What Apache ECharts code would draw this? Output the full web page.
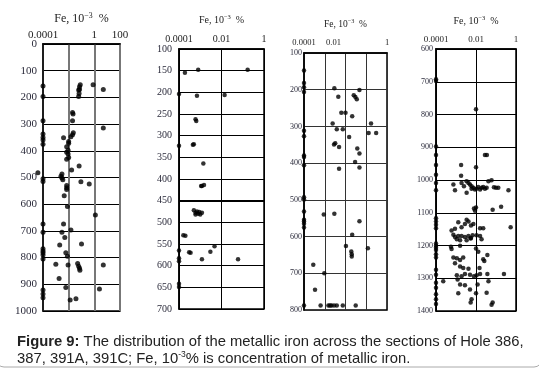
<!DOCTYPE html>
<html>
<head>
<meta charset="utf-8">
<script src="https://cdn.jsdelivr.net/npm/echarts@6/dist/echarts.min.js"></script>
<style>
  html, body { margin: 0; padding: 0; background: #fff; }
  #chart { width: 539px; height: 370px; }
</style>
</head>
<body>
<div id="chart"></div>
<script>
// Hole 386 : Fe (10^-3 %) vs depth
const hole386Fe = [0.0001, 0.0001, 0.08, 0.07, 0.07, 0.06, 0.065, 0.06, 0.8, 5,
  0.02, 0.022, 0.02, 0.0001, 5, 0.023, 0.02, 0.0001, 0.0001, 0.0001,
  0.0001, 0.004, 0.015, 0.01, 0.01, 0.007, 0.009, 0.007, 0.01, 0.009,
  0.007, 0.065, 0.017, 0.00004, 0.003, 0.0025, 0.003, 0.0035, 0.0001, 0.0001,
  0.09, 0.4, 0.007, 0.007, 0.007, 0.0045, 0.008, 1.2, 0.0001, 0.004,
  0.015, 0.003, 0.0001, 0.005, 0.002, 0.1, 0.0001, 0.0001, 0.0001, 0.0001,
  0.0001, 0.006, 0.008, 0.001, 0.009, 0.05, 0.06, 0.07, 0.075, 5,
  0.0018, 0.006, 0.0001, 2.5, 0.0001, 0.013, 0.037, 0.0001];
const hole386Depth = [157, 197, 153, 160, 170, 172, 185, 197, 153, 170,
  257, 262, 287, 287, 315, 332, 340, 337, 350, 360,
  375, 351, 347, 365, 372, 385, 398, 405, 425, 412,
  432, 457, 472, 482, 487, 495, 502, 508, 505, 515,
  516, 524, 530, 538, 545, 568, 609, 640, 674, 674,
  697, 705, 705, 725, 753, 749, 767, 775, 782, 790,
  805, 782, 795, 825, 828, 822, 832, 840, 847, 828,
  878, 912, 921, 918, 950, 959, 954, 936];

// Hole 387
const hole387Fe = [0.00019, 0.0008, 0.17, 0.0001, 0.0007, 0.014, 0.0006, 0.00065, 0.0001, 0.00045,
  0.0005, 0.0014, 0.0011, 0.0012, 0.0015, 0.0005, 0.0006, 0.0007, 0.0008, 0.0009,
  0.0012, 0.001, 0.0006, 0.00016, 0.0002, 0.0001, 0.0003, 0.00035, 0.0001, 0.0001,
  0.0012, 0.003, 0.0047, 0.06, 0.0001, 0.0001];
const hole387Depth = [155, 148, 148, 204, 208, 206, 262, 266, 323, 321,
  320, 364, 416, 416, 414, 472, 478, 475, 480, 476,
  478, 482, 482, 530, 531, 565, 569, 570, 583, 590,
  585, 568, 555, 585, 642, 649];

// Hole 391A
const hole391AFe = [0.0001, 0.0001, 0.0001, 0.0001, 0.0029, 0.0045, 0.047, 0.025, 0.03, 0.035,
  0.0063, 0.01, 0.021, 0.0024, 0.0038, 0.0074, 0.17, 0.13, 0.3, 0.0001,
  0.0001, 0.015, 0.0028, 0.0032, 0.0049, 0.037, 0.047, 0.0001, 0.0001, 0.0001,
  0.029, 0.0049, 0.047, 0.0001, 0.0001, 0.0001, 0.0001, 0.0001, 0.0001, 0.0001,
  0.0009, 0.0029, 0.047, 0.021, 0.0105, 0.019, 0.02, 0.02, 0.12, 0.00028,
  0.00095, 0.00034, 0.0001, 0.00063, 0.0015, 0.0018, 0.0021, 0.0028, 0.0038, 0.0074,
  0.031];
const hole391ADepth = [148, 182, 193, 206, 196, 219, 201, 215, 220, 226,
  263, 263, 272, 292, 308, 308, 292, 318, 318, 312,
  327, 329, 349, 346, 356, 360, 374, 379, 383, 406,
  397, 415, 412, 493, 499, 532, 554, 559, 565, 575,
  540, 538, 558, 595, 626, 641, 648, 654, 632, 677,
  700, 745, 788, 788, 788, 788, 788, 788, 788, 788,
  788];

// Hole 391C
const hole391CFe = [0.0001, 0.0001, 0.01, 0.0001, 0.0001, 0.028, 0.035, 0.0001, 0.0018, 0.01,
  0.0001, 0.0018, 0.0001, 0.0001, 0.00074, 0.00089, 0.0019, 0.0025, 0.0034, 0.0042,
  0.005, 0.006, 0.0074, 0.0089, 0.0107, 0.013, 0.016, 0.019, 0.023, 0.028,
  0.034, 0.042, 0.06, 0.079, 0.1, 0.13, 0.42, 0.0034, 0.006, 0.0079,
  0.0089, 0.01, 0.068, 0.18, 0.0001, 0.0001, 0.0001, 0.0001, 0.0034, 0.0042,
  0.0028, 0.0013, 0.0019, 0.00089, 0.0006, 0.0056, 0.0074, 0.016, 0.023, 0.00074,
  0.00089, 0.0013, 0.0019, 0.0028, 0.0042, 0.0056, 0.0068, 0.0107, 0.016, 0.0011,
  0.0016, 0.0034, 0.0054, 0.019, 0.54, 0.0001, 0.0001, 0.0001, 0.0001, 0.0001,
  0.0001, 0.00056, 0.0006, 0.0016, 0.01, 0.013, 0.037, 0.00074, 0.0011, 0.0016,
  0.0023, 0.023, 0.026, 0.00089, 0.0016, 0.0023, 0.0042, 0.015, 0.0001, 0.0001,
  0.0011, 0.0019, 0.0028, 0.005, 0.0079, 0.0107, 0.016, 0.037, 0.25, 0.00023,
  0.0001, 0.0001, 0.0001, 0.0001, 0.0001, 0.0012, 0.0016, 0.0028, 0.005, 0.012,
  0.042, 0.0013, 0.01, 0.034, 0.006, 0.0054, 0.068, 0.06];
const hole391CDepth = [692, 698, 784, 898, 924, 924, 924, 954, 954, 961,
  984, 987, 1009, 1031, 1014, 1031, 1009, 1019, 1004, 1009,
  1014, 1019, 1024, 1029, 1027, 1021, 1029, 1024, 1021, 1027,
  1024, 1004, 1001, 1022, 1024, 1024, 1031, 1039, 1027, 1087,
  1094, 1084, 1091, 1082, 1117, 1127, 1137, 1147, 1121, 1127,
  1134, 1129, 1144, 1149, 1154, 1139, 1134, 1147, 1147, 1167,
  1174, 1171, 1171, 1174, 1171, 1177, 1169, 1169, 1171, 1181,
  1184, 1184, 1179, 1181, 1144, 1194, 1201, 1207, 1214, 1227,
  1237, 1204, 1211, 1201, 1209, 1219, 1229, 1237, 1239, 1244,
  1237, 1242, 1247, 1254, 1264, 1269, 1271, 1269, 1274, 1289,
  1291, 1294, 1287, 1289, 1294, 1291, 1287, 1287, 1287, 1309,
  1314, 1329, 1349, 1364, 1379, 1304, 1319, 1321, 1334, 1319,
  1309, 1346, 1346, 1344, 1364, 1374, 1374, 1381];

const SERIF = '"Liberation Serif", "DejaVu Serif", serif';
const SANS = '"Liberation Sans", Arial, sans-serif';

const panels = [
  { fe: hole386Fe, depth: hole386Depth, grid: { left: 43, top: 44, width: 77, height: 267 },
    logBase: 100, xMax: 100, xLabels: { '-4': '0.0001', '0': '1', '2': '100' },
    yMin: 0, yMax: 1000, yStep: 100, yFont: 11, yMargin: 6, xFont: 11, xMargin: 3,
    nameFont: 12, nameGap: 17, vColor: '#777', vWidth: 2, hColor: '#000', size: 5 },
  { fe: hole387Fe, depth: hole387Depth, grid: { left: 179, top: 49, width: 85, height: 260 },
    logBase: 100, xMax: 1, xLabels: { '-4': '0.0001', '-2': '0.01', '0': '1' },
    yMin: 100, yMax: 700, yStep: 50, yFont: 10, yMargin: 7, xFont: 10, xMargin: 5,
    nameFont: 10, nameGap: 22, vColor: '#000', vWidth: 1, hColor: '#000', size: 4.5 },
  { fe: hole391AFe, depth: hole391ADepth, grid: { left: 304, top: 53, width: 83, height: 257 },
    logBase: 10, xMax: 1, xLabels: { '-4': '0.0001', '-2': '{s|0.01}', '0': '1' },
    yMin: 100, yMax: 800, yStep: 100, yFont: 8, yMargin: 2, xFont: 8.5, xMargin: 6,
    nameFont: 9.5, nameGap: 23, vColor: '#333', vWidth: 1, hColor: '#333', size: 4.5 },
  { fe: hole391CFe, depth: hole391CDepth, grid: { left: 436, top: 49, width: 80, height: 262 },
    logBase: 100, xMax: 1, xLabels: { '-4': '0.0001', '-2': '0.01', '0': '1' },
    yMin: 600, yMax: 1400, yStep: 100, yFont: 8, yMargin: 3, xFont: 9, xMargin: 4.5,
    nameFont: 10, nameGap: 21, vColor: '#000', vWidth: 1, hColor: '#000', size: 4.5 }
];

const chart = echarts.init(document.getElementById('chart'));

const option = {
  animation: false,
  backgroundColor: '#fff',
  title: {
    text: '{b|Figure 9:} The distribution of the metallic iron across the sections of Hole 386,\n387, 391A, 391C; Fe, 10{sup|-3}% is concentration of metallic iron.',
    left: 12,
    top: 328,
    textStyle: {
      fontFamily: SANS, fontSize: 14.8, fontWeight: 'normal', color: '#222', lineHeight: 17,
      rich: {
        b: { fontFamily: SANS, fontSize: 14.8, fontWeight: 'bold', color: '#222', lineHeight: 17 },
        sup: { fontFamily: SANS, fontSize: 8.5, color: '#222', verticalAlign: 'top', lineHeight: 17, padding: [0, 0, 6, 0] }
      }
    }
  },
  graphic: [{
    type: 'rect',
    shape: { x: -4, y: -20, width: 546, height: 387, r: 8 },
    style: { fill: 'none', stroke: '#aaa', lineWidth: 1 },
    silent: true
  }],
  grid: panels.map(p => Object.assign({ show: true, borderColor: '#000', borderWidth: 1.5, backgroundColor: 'transparent' }, p.grid)),
  xAxis: panels.map((p, i) => ({
    type: 'log',
    logBase: p.logBase,
    gridIndex: i,
    position: 'top',
    min: 0.0001,
    max: p.xMax,
    name: 'Fe, 10{sup|−3}  %',
    nameLocation: 'middle',
    nameGap: p.nameGap,
    nameTextStyle: {
      fontFamily: SERIF, fontSize: p.nameFont, color: '#222',
      rich: { sup: { fontFamily: SERIF, fontSize: p.nameFont * 0.65, color: '#222', padding: [0, 0, 6, 0] } }
    },
    axisLine: { show: true, lineStyle: { color: '#000', width: 1.5 } },
    axisTick: { show: false },
    axisLabel: {
      fontFamily: SERIF, fontSize: p.xFont, color: '#222', margin: p.xMargin,
      showMinLabel: true, showMaxLabel: true,
      rich: { s: { fontFamily: SERIF, fontSize: p.xFont, color: '#222', padding: [0, 24, 0, 0] } },
      formatter: v => p.xLabels[String(Math.round(Math.log10(v)))] || ''
    },
    splitLine: { show: true, lineStyle: { color: p.vColor, width: p.vWidth } }
  })),
  yAxis: panels.map((p, i) => ({
    type: 'value',
    gridIndex: i,
    inverse: true,
    min: p.yMin,
    max: p.yMax,
    interval: p.yStep,
    axisLine: { show: true, lineStyle: { color: '#000', width: 1.5 } },
    axisTick: { show: false },
    axisLabel: {
      fontFamily: SERIF, fontSize: p.yFont, color: '#2a2a3a', margin: p.yMargin,
      showMinLabel: true, showMaxLabel: true,
      formatter: v => String(v)
    },
    splitLine: { show: true, lineStyle: { color: p.hColor, width: 1 } }
  })),
  series: panels.map((p, i) => {
    const s = {
      type: 'scatter',
      xAxisIndex: i,
      yAxisIndex: i,
      data: p.fe.map((v, k) => [v, p.depth[k]]),
      symbol: 'circle',
      symbolSize: p.size,
      itemStyle: { color: '#000' },
      clip: false,
      silent: true
    };
    if (i === 2) {
      s.markLine = { silent: true, symbol: 'none', label: { show: false },
        lineStyle: { color: '#b5b5b5', width: 3, type: 'solid' }, data: [{ xAxis: 0.001 }] };
    }
    if (i === 1) {
      s.markLine = { silent: true, symbol: 'none', label: { show: false },
        lineStyle: { color: '#000', width: 2, type: 'solid' }, data: [{ yAxis: 450 }] };
    }
    return s;
  })
};

chart.setOption(option);
</script>
</body>
</html>
